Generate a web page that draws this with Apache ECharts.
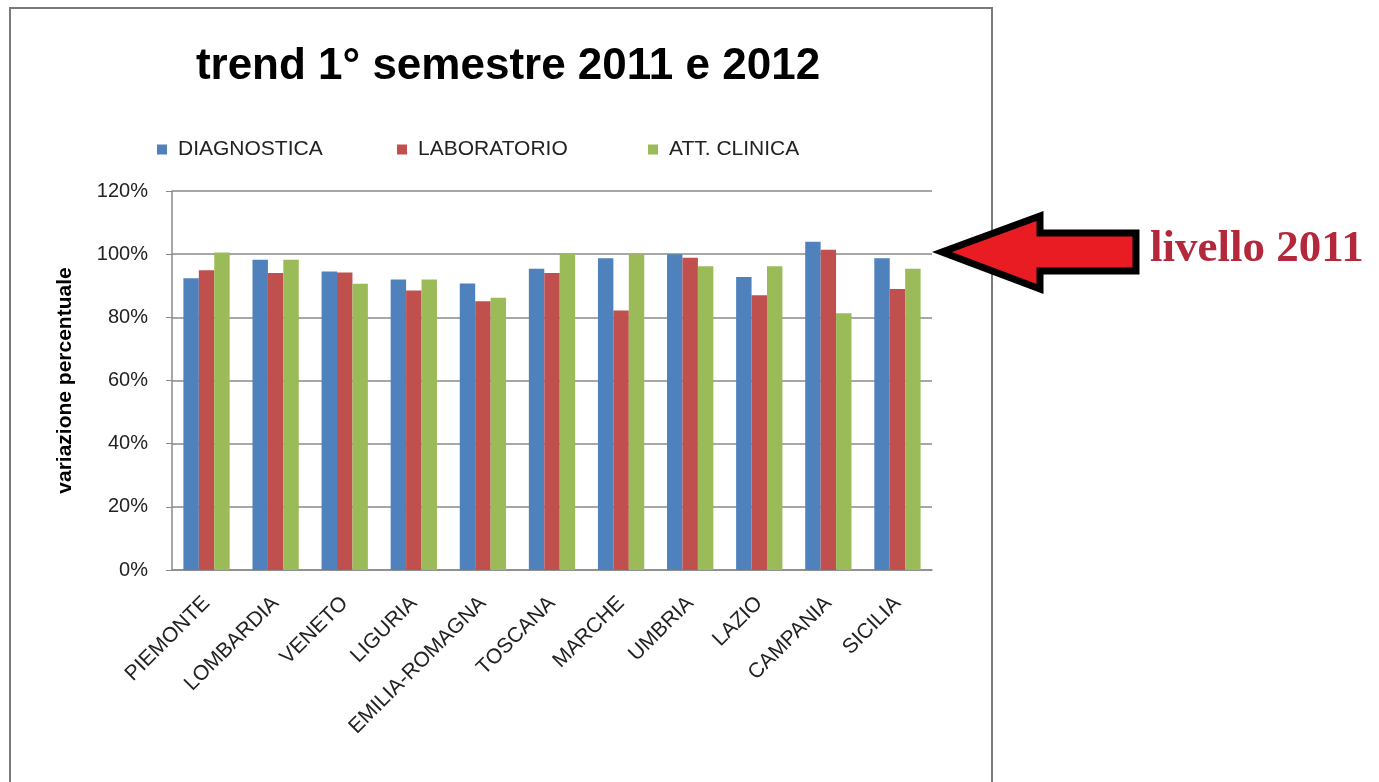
<!DOCTYPE html>
<html><head><meta charset="utf-8">
<script src="https://cdn.jsdelivr.net/npm/echarts@6/dist/echarts.min.js"></script>
<style>html,body{margin:0;padding:0;background:#fff}#c{width:1379px;height:782px}</style>
</head><body><div id="c"></div>
<script>
const categories = ['PIEMONTE','LOMBARDIA','VENETO','LIGURIA','EMILIA-ROMAGNA','TOSCANA','MARCHE','UMBRIA','LAZIO','CAMPANIA','SICILIA'];
const diagnostica = [92.4, 98.2, 94.5, 92.0, 90.7, 95.4, 98.7, 100.0, 92.8, 103.9, 98.7];
const laboratorio = [94.9, 94.0, 94.2, 88.5, 85.1, 94.0, 82.2, 98.9, 87.0, 101.4, 89.0];
const attClinica  = [100.5, 98.2, 90.6, 92.0, 86.2, 100.2, 100.0, 96.2, 96.2, 81.3, 95.4];
const seriesNames = ['DIAGNOSTICA','LABORATORIO','ATT. CLINICA'];
const yTicks = {min: 0, max: 120, interval: 20};

const font = 'Liberation Sans';
const legendLefts = [152, 392, 643];
const legendStyle = (i) => ({
  data: [seriesNames[i]], left: legendLefts[i], top: 134,
  itemWidth: 10, itemHeight: 10, icon: 'rect',
  textStyle: {fontFamily: font, fontSize: 21, color: '#222', padding: [0,0,0,6]}
});
const chart = echarts.init(document.getElementById('c'));
chart.setOption({
  animation: false,
  color: ['#4f81bd','#c0504d','#9bbb59'],
  title: {
    text: 'trend 1° semestre 2011 e 2012',
    left: 503, top: 40, textAlign: 'center',
    textStyle: {fontFamily: font, fontWeight: 'bold', fontSize: 44, color: '#000'}
  },
  legend: [legendStyle(0), legendStyle(1), legendStyle(2)],
  grid: {left: 172, right: 447, top: 191, bottom: 212},
  xAxis: {
    type: 'category', data: categories,
    axisLine: {lineStyle: {color: '#8a8a8a', width: 1.5}},
    axisTick: {length: 6, lineStyle: {color: '#8a8a8a'}},
    axisLabel: {rotate: 45, interval: 0, margin: 30, fontFamily: font, fontSize: 21, color: '#222'}
  },
  yAxis: {
    type: 'value', min: yTicks.min, max: yTicks.max, interval: yTicks.interval,
    name: 'variazione percentuale', nameLocation: 'middle', nameGap: 96, nameRotate: 90,
    nameTextStyle: {fontFamily: font, fontWeight: 'bold', fontSize: 21, color: '#000'},
    axisLine: {show: true, lineStyle: {color: '#8a8a8a', width: 1.5}},
    axisTick: {show: true, length: 6, lineStyle: {color: '#8a8a8a'}},
    axisLabel: {formatter: '{value}%', margin: 24, fontFamily: font, fontSize: 20, color: '#222'},
    splitLine: {lineStyle: {color: '#8a8a8a', width: 1.5}}
  },
  series: [
    {name: seriesNames[0], type: 'bar', data: diagnostica, barGap: '0%', barCategoryGap: '33%'},
    {name: seriesNames[1], type: 'bar', data: laboratorio, barGap: '0%', barCategoryGap: '33%'},
    {name: seriesNames[2], type: 'bar', data: attClinica, barGap: '0%', barCategoryGap: '33%'}
  ],
  graphic: [
    {type: 'rect', shape: {x: 10, y: 8, width: 982, height: 790}, style: {fill: 'none', stroke: '#7a7a7a', lineWidth: 2}, silent: true},
    {type: 'polygon', shape: {points: [[942,252],[1040,216],[1040,233],[1136,233],[1136,271],[1040,271],[1040,289]]},
     style: {fill: '#e81c22', stroke: '#000', lineWidth: 7, lineJoin: 'miter'}},
    {type: 'text', left: 1150, top: 227,
     style: {text: 'livello 2011', fill: '#b3283a', font: 'bold 45px "Liberation Serif", serif'}}
  ]
});
</script></body></html>
